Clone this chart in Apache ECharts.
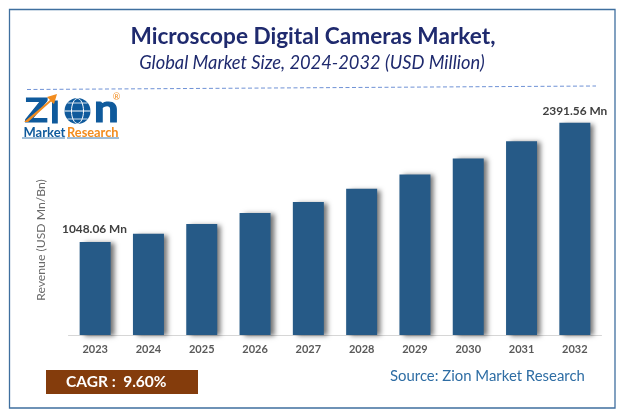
<!DOCTYPE html>
<html><head><meta charset="utf-8">
<script src="https://cdn.jsdelivr.net/npm/echarts@6/dist/echarts.min.js"></script>
<style>html,body{margin:0;padding:0;background:#fff}#c{width:624px;height:418px}</style></head>
<body><div id="c"></div>
<script>
const categories = ['2023','2024','2025','2026','2027','2028','2029','2030','2031','2032'];
const revenue = [1048.06,1140,1252,1375,1500,1650,1810,1990,2185,2391.56];
const labelled = {0:'1048.06 Mn',9:'2391.56 Mn'};
const titleText = 'Microscope Digital Cameras Market,';
const subtitleText = 'Global Market Size, 2024-2032 (USD Million)';
const axisName = 'Revenue (USD Mn/Bn)';
const F = 'Lato, "Open Sans", sans-serif';
const navy = '#1f2a6e';
const zblue = '#0f5a9c';
const orange = '#f28c1e';
const chart = echarts.init(document.getElementById('c'),null,{renderer:'canvas'});
const text=(x,y,t,font,fill,align,extra)=>Object.assign({type:'text',x,y,silent:true,style:Object.assign({text:t,font,fill,textAlign:align||'left',textVerticalAlign:'middle'},(extra&&extra.style)||{})},extra&&extra.el||{});
const logoGlyph=(x,y,t,size,sx)=>text(x,y,t,'bold '+size+'px '+F,zblue,'left',{style:{stroke:zblue,lineWidth:1.2},el:{scaleX:sx}});
chart.setOption({
  animation:false,
  backgroundColor:'#fff',
  grid:{left:68.5,right:22.5,top:60,bottom:83,containLabel:false},
  xAxis:{type:'category',data:categories,
    axisLine:{lineStyle:{color:'#d6d6d6',width:1}},axisTick:{show:false},
    axisLabel:{color:'#595959',fontFamily:F,fontWeight:'bold',fontSize:11,margin:9}},
  yAxis:{type:'value',min:0,max:3100,
    axisLine:{show:false},axisTick:{show:false},axisLabel:{show:false},splitLine:{show:false}},
  series:[{type:'bar',data:revenue,barWidth:31,
    itemStyle:{color:'#265a87',shadowColor:'rgba(0,0,0,0.55)',shadowBlur:5,shadowOffsetX:4,shadowOffsetY:1},
    label:{show:true,position:'top',distance:6,color:'#404040',fontFamily:F,fontWeight:'bold',fontSize:11.9,
      formatter:p=>p.dataIndex===9?labelled[9]:''}}],
  graphic:[
    {type:'rect',shape:{x:9.5,y:9.5,width:605.5,height:398.5},style:{fill:'none',stroke:'#3f6f9f',lineWidth:1.3},silent:true},
    text(313,36.5,titleText,'bold 22.6px '+F,navy,'center'),
    text(312,63,subtitleText,'italic 18.3px '+F,navy,'center'),
    {type:'line',shape:{x1:27,y1:89.5,x2:596,y2:86},style:{stroke:'#6f92d6',lineWidth:1,lineDash:[4,2.5]},silent:true},
    logoGlyph(25,111,'Z',33,1.15),
    logoGlyph(50,113,'I',30,1.1),
    {type:'polygon',shape:{points:[[24,122],[50,100],[47,97],[57,94],[54,104],[51,101.5],[28,122]]},style:{fill:orange},silent:true},
    {type:'circle',shape:{cx:77.5,cy:111,r:13},style:{fill:zblue},silent:true},
    {type:'ellipse',shape:{cx:77.5,cy:111,rx:6,ry:12.5},style:{fill:'none',stroke:'#fff',lineWidth:1},silent:true},
    {type:'line',shape:{x1:64.5,y1:111,x2:90.5,y2:111},style:{stroke:'#fff',lineWidth:1},silent:true},
    {type:'line',shape:{x1:67.5,y1:103,x2:87.5,y2:103},style:{stroke:'#fff',lineWidth:.8},silent:true},
    {type:'line',shape:{x1:67.5,y1:119,x2:87.5,y2:119},style:{stroke:'#fff',lineWidth:.8},silent:true},
    logoGlyph(94,110,'n',38,1.15),
    text(116.5,97,'®','9px '+F,orange,'center'),
    text(23.5,133,'Market','bold 13px '+F,zblue),
    text(67,133,'Research','bold 12.8px '+F,orange),
    {type:'line',shape:{x1:22,y1:138,x2:65,y2:138},style:{stroke:zblue,lineWidth:.8},silent:true},
    {type:'line',shape:{x1:67,y1:138,x2:119,y2:138},style:{stroke:zblue,lineWidth:.8},silent:true},
    text(41.5,240,axisName,'12.2px '+F,'#6a6a6a','center',{el:{rotation:Math.PI/2}}),
    text(62,229,labelled[0],'bold 11.9px '+F,'#404040'),
    {type:'rect',shape:{x:46,y:370,width:152,height:24},style:{fill:'#843c0c'},silent:true},
    text(66,382,'CAGR :  9.60%','bold 15.5px '+F,'#fff'),
    text(390,376,'Source: Zion Market Research','14.9px '+F,'#2e6da4')
  ]
});
</script></body></html>
